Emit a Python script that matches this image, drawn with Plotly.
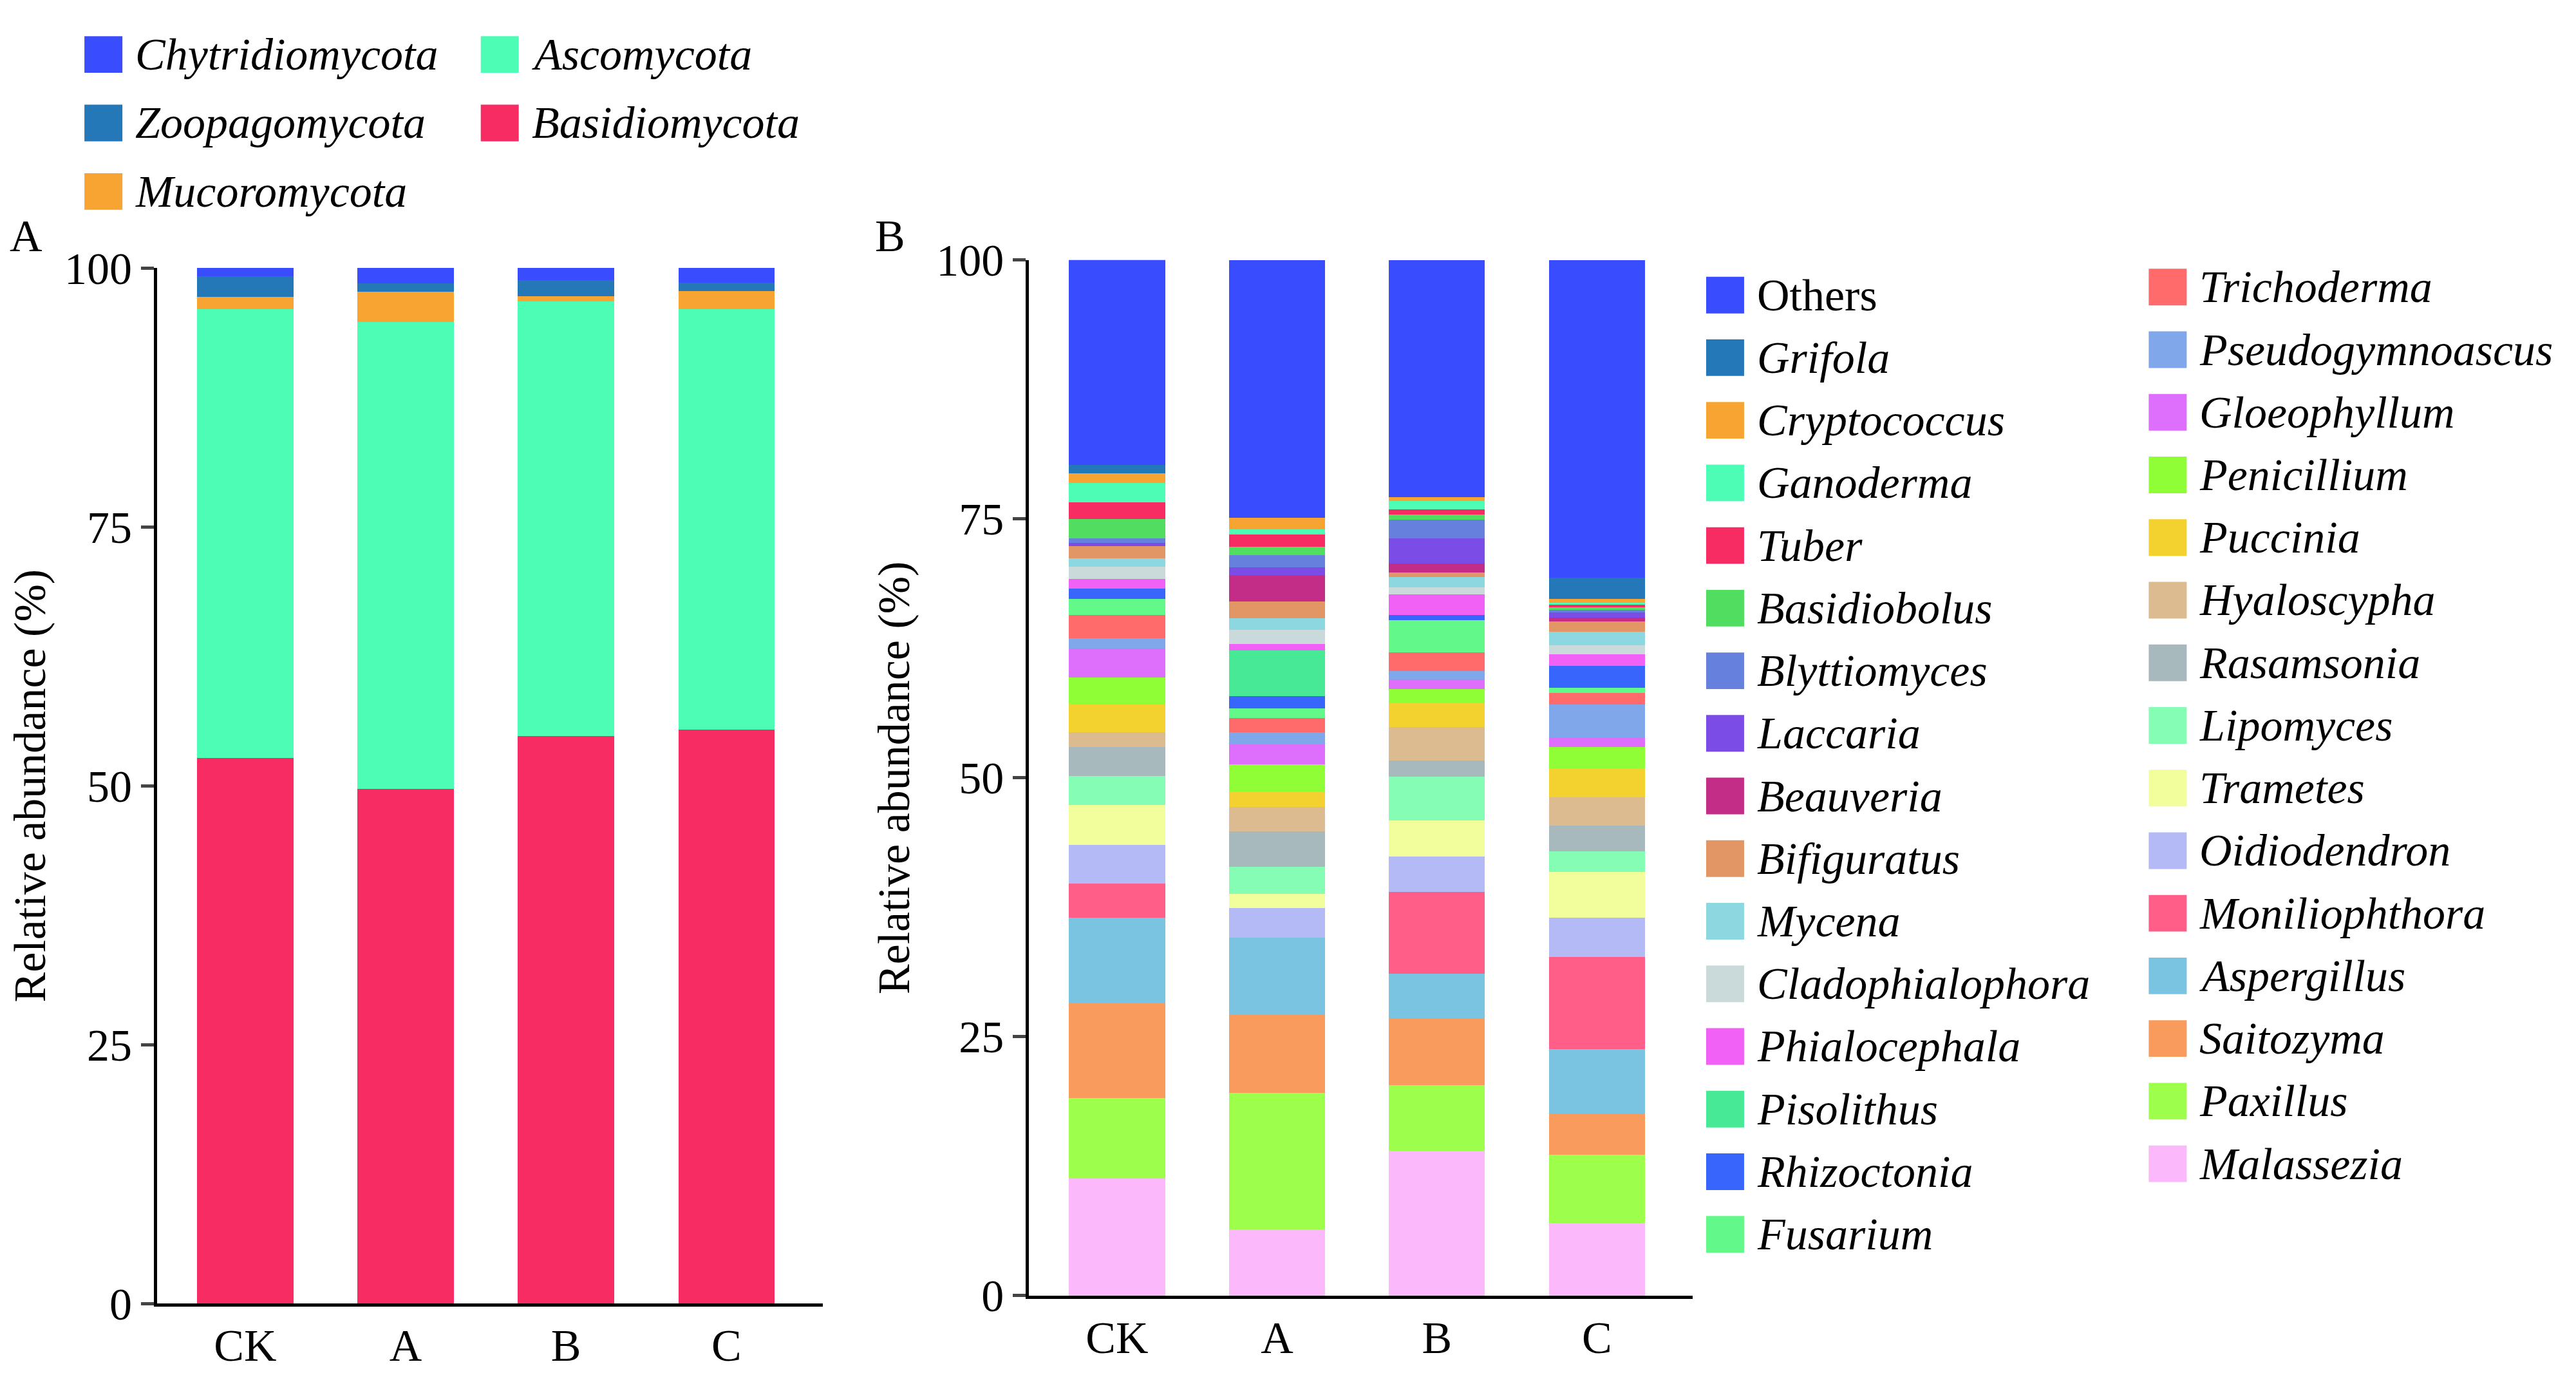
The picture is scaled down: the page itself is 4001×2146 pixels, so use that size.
import plotly.graph_objects as go

groups = ["CK", "A", "B", "C"]

phyla = ["Basidiomycota", "Ascomycota", "Mucoromycota", "Zoopagomycota", "Chytridiomycota"]
phyla_colors = ["#F72C62", "#4DFDB6", "#F8A433", "#2578B8", "#3A4DFE"]
phyla_vals = {
    "Basidiomycota": [52.7, 49.7, 54.8, 55.4],
    "Ascomycota": [43.3, 45.1, 42.0, 40.6],
    "Mucoromycota": [1.2, 2.9, 0.5, 1.8],
    "Zoopagomycota": [2.0, 0.8, 1.5, 0.8],
    "Chytridiomycota": [0.8, 1.5, 1.2, 1.4],
}

genera = ["Malassezia", "Paxillus", "Saitozyma", "Aspergillus", "Moniliophthora", "Oidiodendron",
          "Trametes", "Lipomyces", "Rasamsonia", "Hyaloscypha", "Puccinia", "Penicillium",
          "Gloeophyllum", "Pseudogymnoascus", "Trichoderma", "Fusarium", "Rhizoctonia", "Pisolithus",
          "Phialocephala", "Cladophialophora", "Mycena", "Bifiguratus", "Beauveria", "Laccaria",
          "Blyttiomyces", "Basidiobolus", "Tuber", "Ganoderma", "Cryptococcus", "Grifola", "Others"]
genus_colors = ["#FBB8FB", "#9EFE4C", "#FA9B5E", "#7BC4E1", "#FF5E89", "#B4BAF6",
                "#F2FE9C", "#86FDB4", "#A8B9BD", "#DCBB90", "#F3D12E", "#90FE36",
                "#DE6EFC", "#7FA7EA", "#FF6B6B", "#63F88A", "#3865FC", "#47E996",
                "#F161F6", "#CAD9DA", "#8CD7E0", "#E39665", "#C42D87", "#7B4CE6",
                "#6580DD", "#51DE60", "#F72C62", "#4DFDB6", "#F8A433", "#2578B8", "#3A4DFE"]
genus_vals = {
    "Malassezia": [11.3, 6.4, 14.0, 7.0],
    "Paxillus": [7.8, 13.2, 6.3, 6.6],
    "Saitozyma": [9.1, 7.6, 6.5, 4.0],
    "Aspergillus": [8.3, 7.4, 4.3, 6.2],
    "Moniliophthora": [3.3, 0.0, 7.9, 8.9],
    "Oidiodendron": [3.7, 2.8, 3.4, 3.8],
    "Trametes": [3.9, 1.4, 3.5, 4.4],
    "Lipomyces": [2.8, 2.6, 4.2, 2.0],
    "Rasamsonia": [2.8, 3.4, 1.6, 2.5],
    "Hyaloscypha": [1.4, 2.4, 3.2, 2.7],
    "Puccinia": [2.7, 1.5, 2.3, 2.8],
    "Penicillium": [2.6, 2.6, 1.4, 2.1],
    "Gloeophyllum": [2.8, 1.9, 0.9, 0.9],
    "Pseudogymnoascus": [1.0, 1.2, 0.8, 3.2],
    "Trichoderma": [2.2, 1.4, 1.8, 1.1],
    "Fusarium": [1.6, 0.9, 3.1, 0.5],
    "Rhizoctonia": [1.0, 1.2, 0.5, 2.1],
    "Pisolithus": [0.0, 4.4, 0.0, 0.0],
    "Phialocephala": [0.9, 0.6, 2.0, 1.1],
    "Cladophialophora": [1.2, 1.4, 0.7, 0.9],
    "Mycena": [0.8, 1.1, 1.0, 1.3],
    "Bifiguratus": [1.2, 1.6, 0.4, 1.0],
    "Beauveria": [0.0, 2.6, 0.9, 0.4],
    "Laccaria": [0.3, 0.7, 2.4, 0.5],
    "Blyttiomyces": [0.4, 1.2, 1.8, 0.2],
    "Basidiobolus": [1.9, 0.8, 0.5, 0.3],
    "Tuber": [1.6, 1.2, 0.5, 0.2],
    "Ganoderma": [1.9, 0.5, 0.8, 0.2],
    "Cryptococcus": [0.9, 1.1, 0.4, 0.4],
    "Grifola": [0.8, 0.0, 0.0, 2.0],
    "Others": [19.9, 24.9, 22.9, 30.7],
}

yticks = [0, 25, 50, 75, 100]

W, H = 4001, 2146
S = 2.565
FONT = "Liberation Serif"
FS = 70


def px(x):
    return x * S / W


def py(y):
    return 1 - y * S / H


fig = go.Figure()
for name, col in zip(phyla, phyla_colors):
    fig.add_trace(go.Bar(x=groups, y=phyla_vals[name], name=name, marker_color=col,
                         marker_line_width=0, width=0.6, xaxis="x", yaxis="y", showlegend=False))
for name, col in zip(genera, genus_colors):
    fig.add_trace(go.Bar(x=groups, y=genus_vals[name], name=name, marker_color=col,
                         marker_line_width=0, width=0.6, xaxis="x2", yaxis="y2", showlegend=False))

shapes, annos = [], []


def legend_item(xs, yc, label, color):
    shapes.append(dict(type="rect", xref="paper", yref="paper", x0=px(xs), x1=px(xs + 23),
                       y0=py(yc + 11.5), y1=py(yc - 11.5), fillcolor=color, line_width=0))
    annos.append(dict(xref="paper", yref="paper", x=px(xs + 30), y=py(yc), xanchor="left",
                      yanchor="middle", showarrow=False, text="<i>%s</i>" % label if label != "Others" else label,
                      font=dict(family=FONT, size=FS, color="black")))


pc = dict(zip(phyla, phyla_colors))
legend_item(48, 16, "Chytridiomycota", pc["Chytridiomycota"])
legend_item(48, 59, "Zoopagomycota", pc["Zoopagomycota"])
legend_item(48, 102, "Mucoromycota", pc["Mucoromycota"])
legend_item(288, 16, "Ascomycota", pc["Ascomycota"])
legend_item(288, 59, "Basidiomycota", pc["Basidiomycota"])

gc = dict(zip(genera, genus_colors))
rev = genera[::-1]
col1, col2 = rev[:16], rev[16:]
for i, g in enumerate(col1):
    legend_item(1030, 167 + 39.3 * i, g, gc[g])
for i, g in enumerate(col2):
    legend_item(1298, 162 + 39.3 * i, g, gc[g])

annos.append(dict(xref="paper", yref="paper", x=px(2), y=py(130), xanchor="left", yanchor="middle",
                  showarrow=False, text="A", font=dict(family=FONT, size=FS, color="black")))
annos.append(dict(xref="paper", yref="paper", x=px(526), y=py(130), xanchor="left", yanchor="middle",
                  showarrow=False, text="B", font=dict(family=FONT, size=FS, color="black")))

axis_common = dict(showline=True, linecolor="black", linewidth=5, showgrid=False, zeroline=False,
                   tickfont=dict(family=FONT, size=FS, color="black"))
yax = dict(axis_common, range=[0, 100], tickvals=yticks, ticks="outside", ticklen=20, tickwidth=5,
           title=dict(text="Relative abundance (%)", font=dict(family=FONT, size=FS, color="black"), standoff=20))
xax = dict(axis_common, range=[-0.55, 3.6], ticks="", type="category")

fig.update_layout(
    width=W, height=H, barmode="stack", plot_bgcolor="white", paper_bgcolor="white",
    margin=dict(l=0, r=0, t=0, b=0), showlegend=False,
    xaxis=dict(xax, domain=[px(92), px(495)], anchor="y"),
    yaxis=dict(yax, domain=[py(800), py(150)], anchor="x"),
    xaxis2=dict(xax, domain=[px(620), px(1022)], anchor="y2"),
    yaxis2=dict(yax, domain=[py(795), py(145)], anchor="x2"),
    shapes=shapes, annotations=annos, bargap=0.4,
)
fig.write_html("out.html")
